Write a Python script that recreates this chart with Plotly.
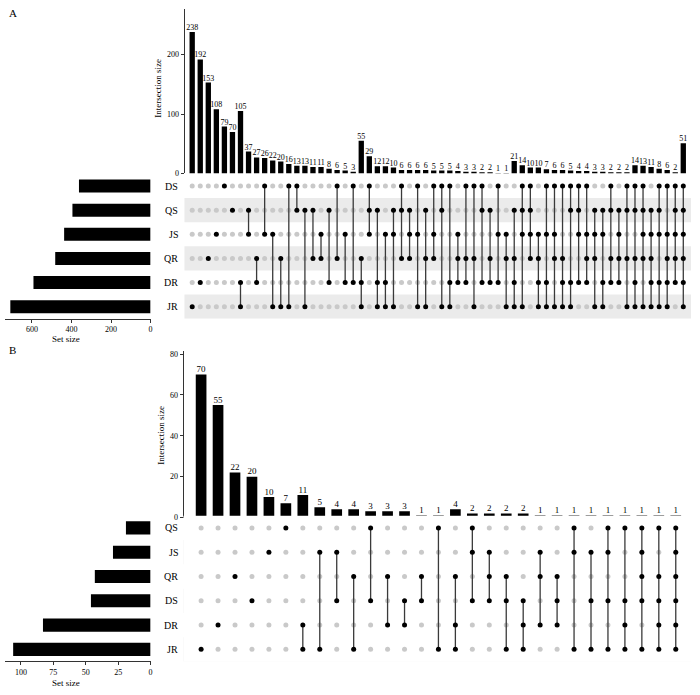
import plotly.graph_objects as go

W, H = 700, 695
FONT = "Liberation Serif"

# ---------------- Panel A data ----------------
A_sets = ["DS", "QS", "JS", "QR", "DR", "JR"]
A_combos = [
    "JR", "DR", "QR", "JS", "DS", "QS",
    "DR JR", "QS JS", "QR DR", "DS JS", "JS JR", "QR JR", "DS JR", "DS QS", "QS JR",
    "QS QR", "JS QR", "QS DR", "DS QR", "JS DR", "DS DR",
    "QR DR JR", "DS QS JS", "QS DR JR", "JS DR JR", "QS JS JR", "DS QS QR", "QS JS QR",
    "DS JS JR", "QS QR JR", "DS JS QR", "DS QS JR", "DS DR JR", "JS QR DR", "DS QR DR",
    "DS QR JR", "DS QS DR", "QS QR DR", "DS JS DR", "JS QR JR",
    "QS QR DR JR", "DS QS JS JR", "DS QS JS QR", "JS QR DR JR", "DS JS DR JR",
    "DS JS QR JR", "DS QR DR JR", "DS QS DR JR", "DS QS JS DR", "DS JS QR DR",
    "QS JS QR JR", "QS JS DR JR", "DS QS QR DR", "QS JS QR DR", "DS QS QR JR",
    "DS QS QR DR JR", "DS QS JS QR JR", "QS JS QR DR JR", "DS QS JS DR JR",
    "DS JS QR DR JR", "DS QS JS QR DR",
    "DS QS JS QR DR JR",
]
A_sizes = [238, 192, 153, 108, 79, 70,
           105, 37, 27, 26, 22, 20, 16, 13, 13, 11, 11, 8, 6, 5, 3,
           55, 29, 12, 12, 10, 6, 6, 6, 6, 5, 5, 5, 4, 3, 3, 2, 2, 1, 1,
           21, 14, 10, 10, 7, 6, 6, 5, 4, 4, 3, 3, 2, 2, 2,
           14, 13, 11, 8, 6, 2,
           51]
A_bar_ticks = [0, 100, 200]
A_set_ticks = [0, 200, 400, 600]

# ---------------- Panel B data ----------------
B_sets = ["QS", "JS", "QR", "DS", "DR", "JR"]
B_combos = [
    "JR", "DR", "QR", "DS", "JS", "QS",
    "DR JR", "JS JR", "JS DS", "QR JR", "QS DS", "QR DR", "DS DR", "QR DS", "QS JR",
    "QR DR JR", "QS JS DS", "JS QR DS", "QR DS JR", "DS DR JR", "JS QR DR", "QR DS DR",
    "QS JS JR", "JS DS JR", "QS JS DS JR", "QS DS DR JR", "QS JS QR DS JR",
    "QS QR DS DR JR", "QS JS QR DS DR JR",
]
B_sizes = [70, 55, 22, 20, 10, 7, 11, 5, 4, 4, 3, 3, 3, 1, 1, 4, 2, 2, 2, 2, 1, 1, 1, 1, 1, 1, 1, 1, 1]
B_bar_ticks = [0, 20, 40, 60, 80]
B_set_ticks = [0, 25, 50, 75, 100]


def dom_x(a, b):
    return [a / W, b / W]


def dom_y(top, bottom):
    return [1 - bottom / H, 1 - top / H]


fig = go.Figure()
shapes = []
annotations = []
layout = dict(
    width=W, height=H, margin=dict(l=0, r=0, t=0, b=0),
    paper_bgcolor="white", plot_bgcolor="white", showlegend=False,
    font=dict(family=FONT, color="black", size=8),
)

GREY = "#c9c9c9"
BAND = "#ebebeb"


def panel(idx, sets, combos, sizes, cfg):
    n = len(combos)
    ax = [str(idx * 3 + k) if idx * 3 + k > 1 else "" for k in (1, 2, 3)]
    xb, yb = "x" + ax[0], "y" + ax[0]
    xm, ym = "x" + ax[1], "y" + ax[1]
    xs, ys = "x" + ax[2], "y" + ax[2]
    cols = list(range(1, n + 1))
    members = [c.split() for c in combos]

    # intersection bars
    fig.add_trace(go.Bar(x=cols, y=sizes, width=cfg["barw"], marker=dict(color="black", line=dict(width=0)),
                         xaxis=xb, yaxis=yb, hoverinfo="skip"))
    fig.add_trace(go.Scatter(x=cols, y=sizes, mode="text", text=[str(v) for v in sizes],
                             textposition="top center", cliponaxis=False,
                             textfont=dict(family=FONT, size=cfg["lblsize"], color="black"),
                             xaxis=xb, yaxis=yb, hoverinfo="skip"))

    # matrix
    gx, gy, bx, by, lx, ly = [], [], [], [], [], []
    for c, mem in zip(cols, members):
        rows = [sets.index(s) for s in mem]
        for r in range(len(sets)):
            if r in rows:
                bx.append(c); by.append(r)
            else:
                gx.append(c); gy.append(r)
        if len(rows) > 1:
            lx += [c, c, None]; ly += [min(rows), max(rows), None]
    fig.add_trace(go.Scatter(x=gx, y=gy, mode="markers", marker=dict(color=GREY, size=cfg["dot"]),
                             xaxis=xm, yaxis=ym, hoverinfo="skip"))
    fig.add_trace(go.Scatter(x=lx, y=ly, mode="lines", line=dict(color="#3a3a3a", width=1.3),
                             xaxis=xm, yaxis=ym, hoverinfo="skip"))
    fig.add_trace(go.Scatter(x=bx, y=by, mode="markers", marker=dict(color="black", size=cfg["dot"]),
                             xaxis=xm, yaxis=ym, hoverinfo="skip"))

    # set sizes
    set_sizes = [sum(v for c, v in zip(members, sizes) if s in c) for s in sets]
    fig.add_trace(go.Bar(x=set_sizes, y=list(range(len(sets))), orientation="h", width=0.54,
                         marker=dict(color="black", line=dict(width=0)),
                         xaxis=xs, yaxis=ys, hoverinfo="skip"))

    nrows = len(sets)
    xr = [cfg["xlo"], n + cfg["xhi"]]
    tickfont = dict(family=FONT, size=8, color="black")
    layout["xaxis" + ax[0]] = dict(domain=dom_x(*cfg["xdom"]), range=xr, visible=False, anchor=yb)
    layout["yaxis" + ax[0]] = dict(domain=dom_y(*cfg["bar_ydom"]), range=[0, cfg["ymax"]], anchor=xb,
                                   showline=True, linecolor="black", linewidth=0.8, ticks="outside",
                                   ticklen=3, tickwidth=0.8, tickcolor="black", tickvals=cfg["bar_ticks"],
                                   showgrid=False, zeroline=False, tickfont=tickfont)
    layout["xaxis" + ax[1]] = dict(domain=dom_x(*cfg["xdom"]), range=xr, visible=False, anchor=ym)
    layout["yaxis" + ax[1]] = dict(domain=dom_y(*cfg["mat_ydom"]), range=[nrows - 0.5, -0.5],
                                   visible=False, anchor=xm)
    layout["xaxis" + ax[2]] = dict(domain=dom_x(5, 151), range=[cfg["setmax"], 0], anchor=ys,
                                   showline=True, linecolor="black", linewidth=0.8, ticks="outside",
                                   ticklen=3, tickwidth=0.8, tickcolor="black", tickvals=cfg["set_ticks"],
                                   showgrid=False, zeroline=False, tickfont=tickfont)
    layout["yaxis" + ax[2]] = dict(domain=dom_y(*cfg["mat_ydom"]), range=[nrows - 0.5, -0.5],
                                   visible=False, anchor=xs)

    for r in range(1, nrows, 2):
        shapes.append(dict(type="rect", xref=xm + " domain", yref=ym, x0=0, x1=1, y0=r - 0.5, y1=r + 0.5,
                           fillcolor=BAND, line=dict(width=0), layer="below"))

    top, bottom = cfg["mat_ydom"]
    rh = (bottom - top) / nrows
    for r, s in enumerate(sets):
        annotations.append(dict(text=s, x=181 / W, y=1 - (top + rh * (r + 0.5)) / H, xref="paper", yref="paper",
                                xanchor="right", yanchor="middle", showarrow=False,
                                font=dict(family=FONT, size=10, color="black")))
    annotations.append(dict(text="Set size", x=66 / W, y=1 - cfg["settitle_y"] / H, xref="paper", yref="paper",
                            xanchor="center", yanchor="middle", showarrow=False,
                            font=dict(family=FONT, size=9, color="black")))
    annotations.append(dict(text="Intersection size", x=cfg["ititle"][0] / W, y=1 - cfg["ititle"][1] / H,
                            xref="paper", yref="paper", textangle=-90, xanchor="center", yanchor="middle",
                            showarrow=False, font=dict(family=FONT, size=9, color="black")))
    annotations.append(dict(text=cfg["letter"], x=cfg["letter_pos"][0] / W, y=1 - cfg["letter_pos"][1] / H,
                            xref="paper", yref="paper", xanchor="center", yanchor="middle",
                            showarrow=False, font=dict(family=FONT, size=11, color="black")))


panel(0, A_sets, A_combos, A_sizes, dict(
    barw=0.66, lblsize=8, dot=5, xlo=0.04, xhi=0.96, xdom=(185, 693),
    bar_ydom=(8, 174), ymax=277, bar_ticks=A_bar_ticks, mat_ydom=(174.5, 320.5),
    setmax=736, set_ticks=A_set_ticks, settitle_y=341, ititle=(159, 88),
    letter="A", letter_pos=(13, 12)))

panel(1, B_sets, B_combos, B_sizes, dict(
    barw=0.63, lblsize=9, dot=5, xlo=-0.04, xhi=0.9, xdom=(184, 693),
    bar_ydom=(353, 521), ymax=81.5, bar_ticks=B_bar_ticks, mat_ydom=(519.25, 666.25),
    setmax=112.3, set_ticks=B_set_ticks, settitle_y=688, ititle=(162, 438),
    letter="B", letter_pos=(13, 352)))

layout["shapes"] = shapes
layout["annotations"] = annotations
fig.update_layout(**layout)
fig.write_html("out.html", config={"displayModeBar": False, "staticPlot": True},
               post_script="document.body.style.margin='0px';")
